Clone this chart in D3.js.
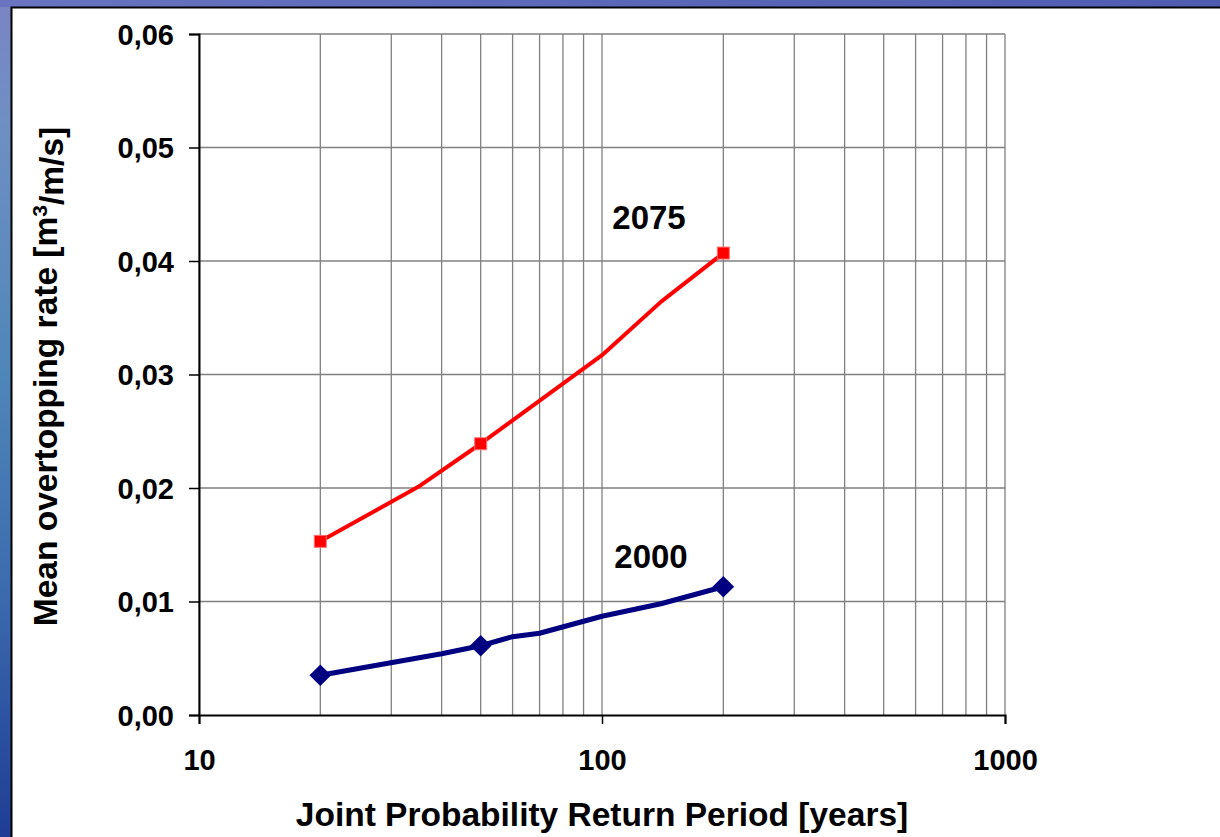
<!DOCTYPE html>
<html>
<head>
<meta charset="utf-8">
<script src="https://cdn.jsdelivr.net/npm/d3@7"></script>
<style>
  html, body { margin: 0; padding: 0; background: #ffffff; }
  svg { display: block; }
  text { font-family: "Liberation Sans", Arial, sans-serif; font-weight: bold; fill: #000; }
</style>
</head>
<body>
<svg id="chart" width="1220" height="837"></svg>
<script>
// Return periods [years] and mean overtopping rates [m3/m/s]
const period2075 = [20, 35, 50, 100, 140, 200];
const rate2075   = [0.0153, 0.0201, 0.0239, 0.0317, 0.0364, 0.0407];
const marked2075 = [20, 50, 200];

const period2000 = [20, 40, 50, 60, 70, 100, 140, 200];
const rate2000   = [0.0035, 0.0054, 0.0061, 0.0069, 0.0072, 0.0087, 0.0098, 0.0113];
const marked2000 = [20, 50, 200];

const yTicks = [0, 0.01, 0.02, 0.03, 0.04, 0.05, 0.06];
const xTicks = [10, 100, 1000];
const seriesNames = ["2075", "2000"];

const svg = d3.select("#chart");
const W = 1220, H = 837;
const plot = { left: 199, right: 1005, top: 34, bottom: 715 };

// Slide backdrop: textured blue strips on the left and top
const defs = svg.append("defs");
const gL = defs.append("linearGradient").attr("id", "sideBlue")
  .attr("x1", 0).attr("y1", 0).attr("x2", 0).attr("y2", 1);
[[0, "#7b84c4"], [0.15, "#6f8fc2"], [0.45, "#4f86b8"], [0.7, "#3d6cae"], [1, "#1f3d94"]]
  .forEach(([o, c]) => gL.append("stop").attr("offset", o).attr("stop-color", c));
const gT = defs.append("linearGradient").attr("id", "topBlue")
  .attr("x1", 0).attr("y1", 0).attr("x2", 1).attr("y2", 0);
[[0, "#6a74c0"], [0.5, "#5a68b8"], [1, "#4f5cb0"]]
  .forEach(([o, c]) => gT.append("stop").attr("offset", o).attr("stop-color", c));

svg.append("rect").attr("x", 0).attr("y", 0).attr("width", W).attr("height", H).attr("fill", "url(#sideBlue)");
svg.append("rect").attr("x", 0).attr("y", 0).attr("width", W).attr("height", 7).attr("fill", "url(#topBlue)");
svg.append("rect").attr("x", 12).attr("y", 8).attr("width", W - 12).attr("height", H - 8).attr("fill", "#ffffff");
svg.append("path").attr("d", `M11.5,${H} V7.5 H${W}`).attr("fill", "none").attr("stroke", "#000").attr("stroke-width", 2);

// Scales
const x = d3.scaleLog().domain([10, 1000]).range([plot.left, plot.right]);
const y = d3.scaleLinear().domain([0, 0.06]).range([plot.bottom, plot.top]);

// Gridlines
const minorX = [];
[10, 100].forEach(d => { for (let k = 1; k <= 9; k++) minorX.push(d * k); });
minorX.push(1000);
svg.append("g").selectAll("line").data(minorX).join("line")
  .attr("x1", d => x(d)).attr("x2", d => x(d))
  .attr("y1", plot.top).attr("y2", plot.bottom)
  .attr("stroke", "#808080").attr("stroke-width", 1.3);
svg.append("g").selectAll("line").data(yTicks.slice(1)).join("line")
  .attr("x1", plot.left).attr("x2", plot.right)
  .attr("y1", d => y(d)).attr("y2", d => y(d))
  .attr("stroke", "#808080").attr("stroke-width", 1.3);

// Axes
const yAxis = d3.axisLeft(y).tickValues(yTicks).tickSize(10).tickPadding(15)
  .tickFormat(d => d3.format(".2f")(d).replace(".", ","));
const gy = svg.append("g").attr("transform", `translate(${plot.left},0)`).call(yAxis);
gy.select(".domain").attr("stroke", "#000").attr("stroke-width", 2);
gy.selectAll(".tick line").attr("stroke", "#000").attr("stroke-width", 1.5);
gy.selectAll(".tick text").style("font-size", "29px").attr("dy", "0.36em");

const xAxis = d3.axisBottom(x).tickValues(xTicks).tickSize(9).tickPadding(25)
  .tickFormat(d3.format("d"));
const gx = svg.append("g").attr("transform", `translate(0,${plot.bottom})`).call(xAxis);
gx.select(".domain").attr("stroke", "#000").attr("stroke-width", 2);
gx.selectAll(".tick line").attr("stroke", "#000").attr("stroke-width", 1.5);
gx.selectAll(".tick text").style("font-size", "29px");

// Axis titles
svg.append("text")
  .attr("x", 602).attr("y", 826)
  .attr("text-anchor", "middle").style("font-size", "33.5px")
  .text("Joint Probability Return Period [years]");

const yt = svg.append("text")
  .attr("transform", `translate(57,${(plot.top + plot.bottom) / 2 + 2}) rotate(-90)`)
  .attr("text-anchor", "middle").style("font-size", "33.5px");
yt.append("tspan").text("Mean overtopping rate [m");
yt.append("tspan").attr("dy", "-0.5em").style("font-size", "21px").text("3");
yt.append("tspan").attr("dy", "0.5em").text("/m/s]");

// Series lines
const line = d3.line().x(d => x(d[0])).y(d => y(d[1]));
const data2075 = period2075.map((p, i) => [p, rate2075[i]]);
const data2000 = period2000.map((p, i) => [p, rate2000[i]]);

svg.append("path").datum(data2075).attr("d", line)
  .attr("fill", "none").attr("stroke", "#ff0000").attr("stroke-width", 4)
  .attr("stroke-linejoin", "round");
svg.append("path").datum(data2000).attr("d", line)
  .attr("fill", "none").attr("stroke", "#000080").attr("stroke-width", 5)
  .attr("stroke-linejoin", "round");

// Markers
const m2075 = data2075.filter(d => marked2075.includes(d[0]));
svg.append("g").selectAll("rect").data(m2075).join("rect")
  .attr("x", d => x(d[0]) - 6).attr("y", d => y(d[1]) - 6)
  .attr("width", 12).attr("height", 12)
  .attr("fill", "#ff0000").attr("stroke", "#ff7070").attr("stroke-width", 1);

const m2000 = data2000.filter(d => marked2000.includes(d[0]));
svg.append("g").selectAll("path").data(m2000).join("path")
  .attr("d", d3.symbol().type(d3.symbolDiamond2).size(300))
  .attr("transform", d => `translate(${x(d[0])},${y(d[1])})`)
  .attr("fill", "#000080");

// Series labels
svg.append("text").attr("x", 649).attr("y", 229)
  .attr("text-anchor", "middle").style("font-size", "33px").text(seriesNames[0]);
svg.append("text").attr("x", 651).attr("y", 568)
  .attr("text-anchor", "middle").style("font-size", "33px").text(seriesNames[1]);
</script>
</body>
</html>
